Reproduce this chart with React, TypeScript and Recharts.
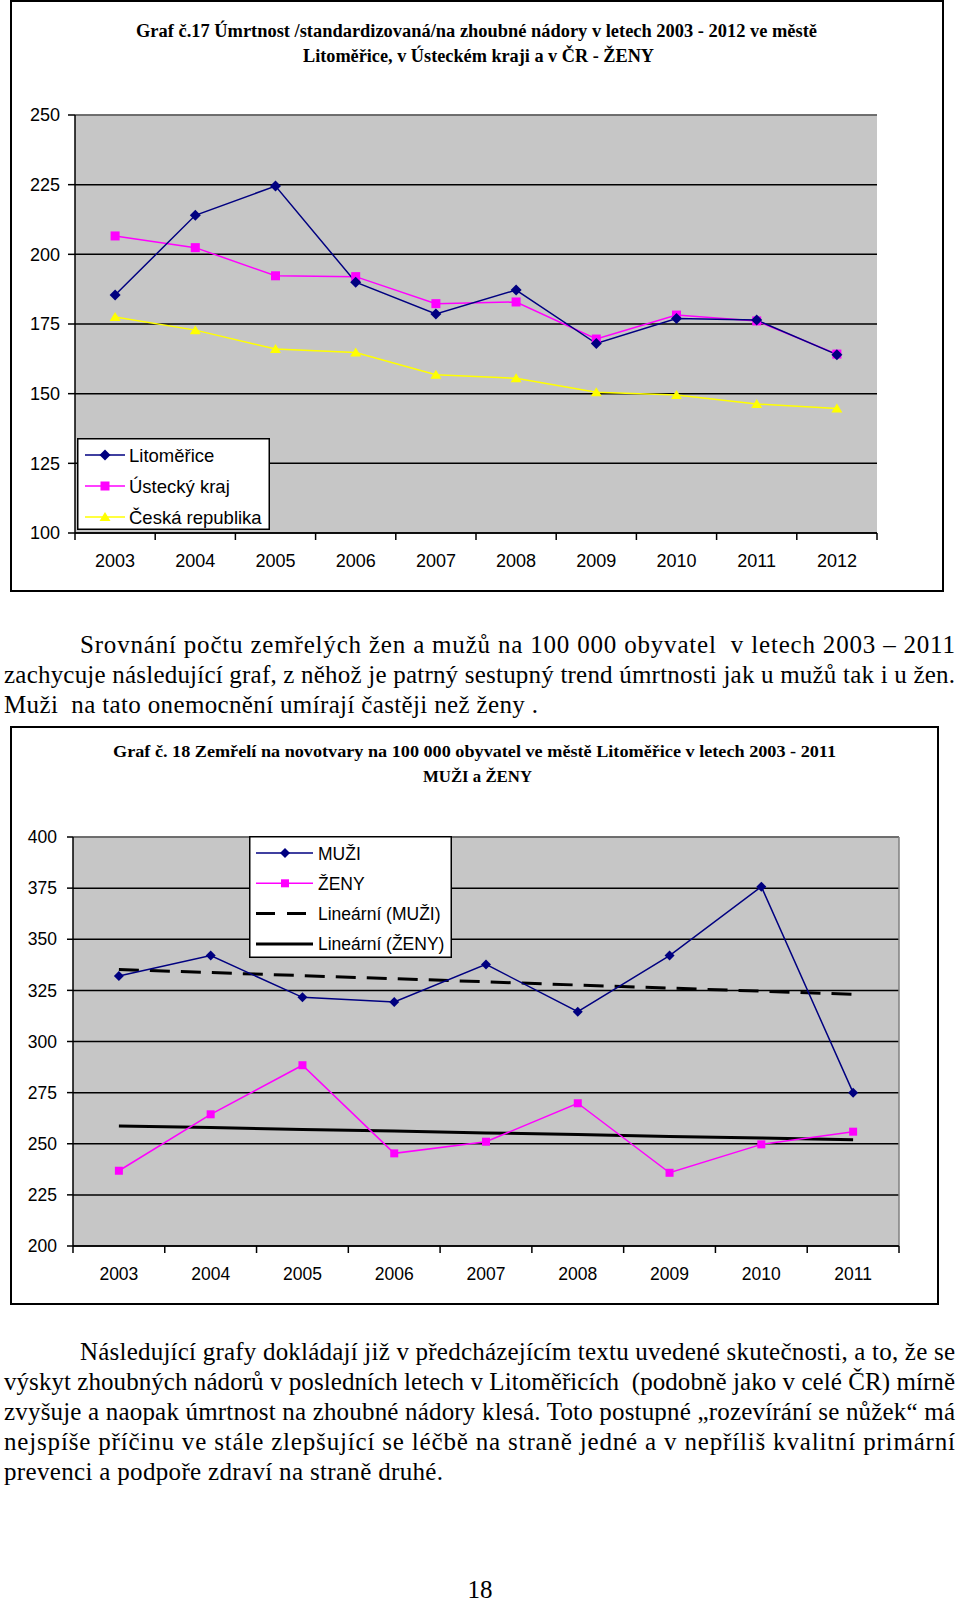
import React from 'react';
import { LineChart, Line, XAxis, YAxis, CartesianGrid, ReferenceLine, Legend } from 'recharts';

// Graf 17 - women, standardised mortality
const years1 = ['2003', '2004', '2005', '2006', '2007', '2008', '2009', '2010', '2011', '2012'];
const litomerice = [185.4, 214, 224.5, 190, 178.6, 187.2, 168, 177, 176.4, 164];
const ustecky = [206.6, 202.4, 192.3, 192, 182.3, 182.9, 169.6, 178.2, 176.1, 164.2];
const ceskaRep = [177.5, 172.8, 166, 164.8, 156.8, 155.5, 150.5, 149.5, 146.3, 144.7];
const yTicks1 = [100, 125, 150, 175, 200, 225, 250];

// Graf 18 - men and women, Litoměřice
const years2 = ['2003', '2004', '2005', '2006', '2007', '2008', '2009', '2010', '2011'];
const muzi = [332, 342, 321.6, 319.3, 337.7, 314.6, 342, 375.7, 275];
const zeny = [236.8, 264.4, 288.4, 245.3, 251, 269.8, 235.8, 249.7, 255.9];
const trendMuzi = [335.2, 333.7, 332.2, 330.7, 329.2, 327.6, 326.1, 324.6, 323.1];
const trendZeny = [258.7, 257.9, 257.0, 256.2, 255.3, 254.5, 253.6, 252.8, 251.9];
const yTicks2 = [200, 225, 250, 275, 300, 325, 350, 375, 400];

const legend1 = ['Litoměřice', 'Ústecký kraj', 'Česká republika'];
const legend2 = ['MUŽI', 'ŽENY', 'Lineární (MUŽI)', 'Lineární (ŽENY)'];

const data1 = years1.map((year, i) => ({ year, lit: litomerice[i], ust: ustecky[i], cr: ceskaRep[i] }));
const data2 = years2.map((year, i) => ({ year, muzi: muzi[i], zeny: zeny[i], tm: trendMuzi[i], tz: trendZeny[i] }));

const SANS = '"Liberation Sans", Arial, sans-serif';
const SERIF = '"Liberation Serif", "Times New Roman", serif';
const NAVY = '#000080';
const MAGENTA = '#ff00ff';
const YELLOW = '#ffff00';
const PLOT_BG = '#c6c6c6';

const Diamond = ({ cx, cy, r, fill }: any) => (
  <path d={`M${cx},${cy - r}L${cx + r},${cy}L${cx},${cy + r}L${cx - r},${cy}Z`} fill={fill} />
);
const Square = ({ cx, cy, r, fill }: any) => <rect x={cx - r} y={cy - r} width={2 * r} height={2 * r} fill={fill} />;
const Triangle = ({ cx, cy, r, fill }: any) => (
  <path d={`M${cx},${cy - r}L${cx + r * 1.1},${cy + r * 0.8}L${cx - r * 1.1},${cy + r * 0.8}Z`} fill={fill} />
);

const dotOf = (Shape: any, r: number, fill: string) => (p: any) =>
  p.cx == null ? <g key={p.index} /> : <Shape key={p.index} cx={p.cx} cy={p.cy} r={r} fill={fill} />;

const makeXTick = (halfBand: number, lastIndex: number, fontSize: number) => (props: any) => {
  const { x, y, payload, index } = props;
  return (
    <g>
      <line x1={x - halfBand} x2={x - halfBand} y1={y} y2={y + 7} stroke="#000" strokeWidth={1.5} />
      {index === lastIndex && <line x1={x + halfBand} x2={x + halfBand} y1={y} y2={y + 7} stroke="#000" strokeWidth={1.5} />}
      <text x={x} y={y + 34} textAnchor="middle" fontFamily={SANS} fontSize={fontSize} fill="#000">
        {payload.value}
      </text>
    </g>
  );
};

const Legend1Box = () => {
  const shapes = [
    { S: Diamond, r: 5.5, color: NAVY },
    { S: Square, r: 4.5, color: MAGENTA },
    { S: Triangle, r: 5, color: YELLOW },
  ];
  return (
    <svg width={193} height={92} style={{ display: 'block' }}>
      <rect x={0.75} y={0.75} width={191.5} height={90.5} fill="#fff" stroke="#000" strokeWidth={1.5} />
      {legend1.map((name, i) => {
        const cy = 17 + i * 31;
        const { S, r, color } = shapes[i];
        return (
          <g key={name}>
            <line x1={8} x2={48} y1={cy} y2={cy} stroke={color} strokeWidth={1.5} />
            <S cx={28} cy={cy} r={r} fill={color} />
            <text x={52} y={cy + 6.5} fontFamily={SANS} fontSize={18.5} fill="#000">
              {name}
            </text>
          </g>
        );
      })}
    </svg>
  );
};

const Legend2Box = () => (
  <svg width={203} height={122} style={{ display: 'block' }}>
    <rect x={0.75} y={0.75} width={201.5} height={120.5} fill="#fff" stroke="#000" strokeWidth={1.5} />
    {legend2.map((name, i) => {
      const cy = 17 + i * 30.3;
      return (
        <g key={name}>
          {i === 0 && (
            <>
              <line x1={7} x2={64} y1={cy} y2={cy} stroke={NAVY} strokeWidth={1.5} />
              <Diamond cx={36} cy={cy} r={5} fill={NAVY} />
            </>
          )}
          {i === 1 && (
            <>
              <line x1={7} x2={64} y1={cy} y2={cy} stroke={MAGENTA} strokeWidth={1.5} />
              <Square cx={36} cy={cy} r={4} fill={MAGENTA} />
            </>
          )}
          {i === 2 && <line x1={7} x2={64} y1={cy} y2={cy} stroke="#000" strokeWidth={3} strokeDasharray="19 12" />}
          {i === 3 && <line x1={7} x2={64} y1={cy} y2={cy} stroke="#000" strokeWidth={3} />}
          <text x={69} y={cy + 6.5} fontFamily={SANS} fontSize={17.5} fill="#000">
            {name}
          </text>
        </g>
      );
    })}
  </svg>
);

const para1 = [
  { text: 'Srovnání počtu zemřelých žen a mužů na 100 000 obyvatel  v letech 2003 – 2011', x: 80, len: 875 },
  { text: 'zachycuje následující graf, z něhož je patrný sestupný trend úmrtnosti jak u mužů tak i u žen.', x: 4, len: 951 },
  { text: 'Muži  na tato onemocnění umírají častěji než ženy .', x: 4, len: 534 },
];
const para2 = [
  { text: 'Následující grafy dokládají již v předcházejícím textu uvedené skutečnosti, a to, že se', x: 80, len: 875 },
  { text: 'výskyt zhoubných nádorů v posledních letech v Litoměřicích  (podobně jako v celé ČR) mírně', x: 4, len: 951 },
  { text: 'zvyšuje a naopak úmrtnost na zhoubné nádory klesá. Toto postupné „rozevírání se nůžek“ má', x: 4, len: 951 },
  { text: 'nejspíše příčinu ve stále zlepšující se léčbě na straně jedné a v nepříliš kvalitní primární', x: 4, len: 951 },
  { text: 'prevenci a podpoře zdraví na straně druhé.', x: 4, len: 439 },
];

const Texts = () => (
  <svg width={960} height={1606} style={{ position: 'absolute', left: 0, top: 0, pointerEvents: 'none' }}>
    <g fontFamily={SERIF} fontWeight="bold" fill="#000" textAnchor="middle">
      <text x={476.5} y={37} fontSize={18} textLength={681} lengthAdjust="spacingAndGlyphs">
        Graf č.17 Úmrtnost /standardizovaná/na zhoubné nádory v letech 2003 - 2012 ve městě
      </text>
      <text x={478.5} y={62} fontSize={18} textLength={351} lengthAdjust="spacingAndGlyphs">
        Litoměřice, v Ústeckém kraji a v ČR - ŽENY
      </text>
      <text x={474.5} y={757} fontSize={16.5} textLength={723} lengthAdjust="spacingAndGlyphs">
        Graf č. 18 Zemřelí na novotvary na 100 000 obyvatel ve městě Litoměřice v letech 2003 - 2011
      </text>
      <text x={477.5} y={782} fontSize={16.5} textLength={109} lengthAdjust="spacingAndGlyphs">
        MUŽI a ŽENY
      </text>
    </g>
    <g fontFamily={SERIF} fontSize={25} fill="#000">
      {para1.map((l, i) => (
        <text key={i} x={l.x} y={653 + i * 30} textLength={l.len} lengthAdjust="spacing" style={{ whiteSpace: 'pre' }}>
          {l.text}
        </text>
      ))}
      {para2.map((l, i) => (
        <text key={i} x={l.x} y={1360 + i * 30} textLength={l.len} lengthAdjust="spacing" style={{ whiteSpace: 'pre' }}>
          {l.text}
        </text>
      ))}
      <text x={480} y={1598} textAnchor="middle" fontSize={25}>
        18
      </text>
    </g>
  </svg>
);

const App = () => {
  const axisStroke = { stroke: '#000', strokeWidth: 1.5 };
  return (
    <div style={{ position: 'absolute', left: 0, top: 0, width: 960, height: 1606, background: '#fff', overflow: 'hidden' }}>
      {/* chart boxes */}
      <div style={{ position: 'absolute', left: 10, top: 0, width: 934, height: 592, border: '2px solid #000', boxSizing: 'border-box' }} />
      <div style={{ position: 'absolute', left: 10, top: 726, width: 929, height: 579, border: '2px solid #000', boxSizing: 'border-box' }} />

      <div style={{ position: 'absolute', left: 0, top: 0, width: 960, height: 600 }}>
        <LineChart width={960} height={600} data={data1} margin={{ top: 115, right: 83, bottom: 37, left: 15 }}>
          <CartesianGrid vertical={false} stroke="#000" strokeWidth={1.5} fill={PLOT_BG} fillOpacity={1} />
          <XAxis
            dataKey="year"
            scale="band"
            interval={0}
            height={30}
            tickLine={false}
            tickSize={0}
            tickMargin={0}
            axisLine={axisStroke}
            tick={makeXTick(40.1, years1.length - 1, 18)}
          />
          <YAxis
            type="number"
            domain={[100, 250]}
            ticks={yTicks1}
            interval={0}
            width={60}
            tickSize={7}
            tickMargin={8}
            axisLine={axisStroke}
            tickLine={axisStroke}
            tick={{ fill: '#000', fontSize: 18, fontFamily: SANS }}
          />
          <ReferenceLine y={250} stroke="#808080" strokeWidth={1.5} />
          <ReferenceLine x="2012" position="end" stroke="#808080" strokeWidth={1.5} />
          <Line dataKey="cr" name={legend1[2]} stroke={YELLOW} strokeWidth={1.5} dot={dotOf(Triangle, 5, YELLOW)} activeDot={false} isAnimationActive={false} />
          <Line dataKey="ust" name={legend1[1]} stroke={MAGENTA} strokeWidth={1.5} dot={dotOf(Square, 4.5, MAGENTA)} activeDot={false} isAnimationActive={false} />
          <Line dataKey="lit" name={legend1[0]} stroke={NAVY} strokeWidth={1.5} dot={dotOf(Diamond, 5.5, NAVY)} activeDot={false} isAnimationActive={false} />
          <Legend
            layout="vertical"
            align="center"
            verticalAlign="middle"
            wrapperStyle={{ left: 77, top: 438, width: 193, height: 92 }}
            content={() => <Legend1Box />}
          />
        </LineChart>
      </div>

      <div style={{ position: 'absolute', left: 0, top: 727, width: 960, height: 578 }}>
        <LineChart width={960} height={578} data={data2} margin={{ top: 110, right: 61, bottom: 29, left: 13 }}>
          <CartesianGrid vertical={false} stroke="#000" strokeWidth={1.5} fill={PLOT_BG} fillOpacity={1} />
          <XAxis
            dataKey="year"
            scale="band"
            interval={0}
            height={30}
            tickLine={false}
            tickSize={0}
            tickMargin={0}
            axisLine={axisStroke}
            tick={makeXTick(45.9, years2.length - 1, 17.5)}
          />
          <YAxis
            type="number"
            domain={[200, 400]}
            ticks={yTicks2}
            interval={0}
            width={60}
            tickSize={6}
            tickMargin={10}
            axisLine={axisStroke}
            tickLine={axisStroke}
            tick={{ fill: '#000', fontSize: 17.5, fontFamily: SANS }}
          />
          <ReferenceLine y={400} stroke="#808080" strokeWidth={1.5} />
          <ReferenceLine x="2011" position="end" stroke="#808080" strokeWidth={1.5} />
          <Line dataKey="tm" name={legend2[2]} stroke="#000" strokeWidth={3} strokeDasharray="20 11" dot={false} activeDot={false} isAnimationActive={false} />
          <Line dataKey="tz" name={legend2[3]} stroke="#000" strokeWidth={3} dot={false} activeDot={false} isAnimationActive={false} />
          <Line dataKey="zeny" name={legend2[1]} stroke={MAGENTA} strokeWidth={1.5} dot={dotOf(Square, 4, MAGENTA)} activeDot={false} isAnimationActive={false} />
          <Line dataKey="muzi" name={legend2[0]} stroke={NAVY} strokeWidth={1.5} dot={dotOf(Diamond, 5, NAVY)} activeDot={false} isAnimationActive={false} />
          <Legend
            layout="vertical"
            align="center"
            verticalAlign="middle"
            wrapperStyle={{ left: 249, top: 109, width: 203, height: 122 }}
            content={() => <Legend2Box />}
          />
        </LineChart>
      </div>

      <Texts />
    </div>
  );
};

export default App;
